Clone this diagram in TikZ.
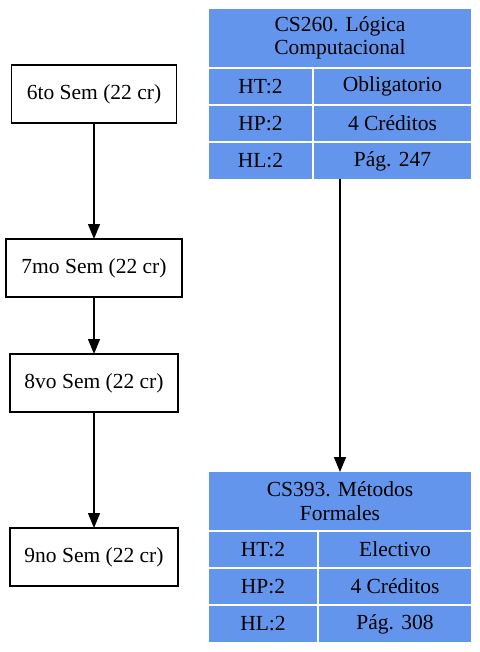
\documentclass[tikz,border=0pt]{standalone}
\usepackage{fontspec}
\setmainfont{Liberation Serif}
\usetikzlibrary{arrows.meta}
\definecolor{cellblue}{HTML}{6495ED}
\begin{document}
\begin{tikzpicture}[x=1pt, y=-1pt,
    every node/.style={font=\fontsize{21.5}{23.5}\selectfont, inner sep=0pt, outer sep=0pt},
    sem/.style={draw, line width=1.3pt, minimum height=58pt},
    cell/.style={fill=cellblue, minimum height=35pt},
    head/.style={fill=cellblue, minimum width=262pt, minimum height=58pt, align=center},
    flow/.style={line width=1.3pt, -{Triangle[length=15pt, width=12pt]}}]
        \useasboundingbox (0,0) rectangle (479,652);
        % semesters
        \node[sem, minimum width=165pt] (sem6) at (94, 94) {6to Sem (22 cr)};
        \node[sem, minimum width=176pt] (sem7) at (94, 268) {7mo Sem (22 cr)};
        \node[sem, minimum width=168pt] (sem8) at (94, 383) {8vo Sem (22 cr)};
        \node[sem, minimum width=168pt] (sem9) at (94, 557) {9no Sem (22 cr)};
        \draw[flow] (sem6) -- (sem7);
        \draw[flow] (sem7) -- (sem8);
        \draw[flow] (sem8) -- (sem9);
        % CS260
        \node[head] (cs260) at (340, 38) {CS260. Lógica\\Computacional};
        \node[cell, minimum width=103pt] (ht260) at (260.5, 86.5) {HT:2};
        \node[cell, minimum width=157pt] (ob260) at (392.5, 86.5) {Obligatorio};
        \node[cell, minimum width=103pt] (hp260) at (260.5, 123.5) {HP:2};
        \node[cell, minimum width=157pt] (cr260) at (392.5, 123.5) {4 Créditos};
        \node[cell, minimum width=103pt, minimum height=36pt] (hl260) at (260.5, 161) {HL:2};
        \node[cell, minimum width=157pt, minimum height=36pt] (pg260) at (392.5, 161) {Pág. 247};
        % CS393
        \node[head] (cs393) at (340, 501) {CS393. Métodos\\Formales};
        \node[cell, minimum width=108pt] (ht393) at (263, 549.5) {HT:2};
        \node[cell, minimum width=152pt] (el393) at (395, 549.5) {Electivo};
        \node[cell, minimum width=108pt] (hp393) at (263, 586.5) {HP:2};
        \node[cell, minimum width=152pt] (cr393) at (395, 586.5) {4 Créditos};
        \node[cell, minimum width=108pt, minimum height=36pt] (hl393) at (263, 624) {HL:2};
        \node[cell, minimum width=152pt, minimum height=36pt] (pg393) at (395, 624) {Pág. 308};
        \draw[flow] (cs260 |- pg260.south) -- (cs393.north);
\end{tikzpicture}
\end{document}
